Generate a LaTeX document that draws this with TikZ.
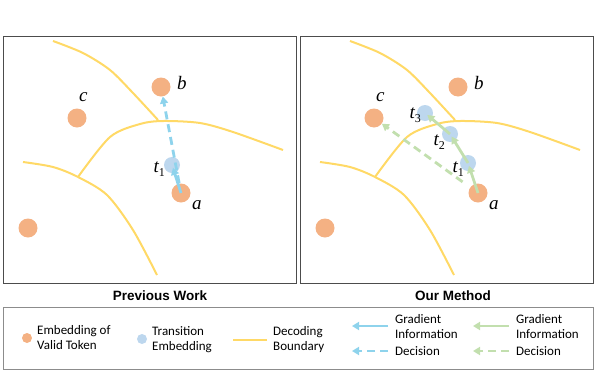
\documentclass[tikz,border=0pt]{standalone}
\usepackage{fontspec}
\setmainfont{Liberation Serif}
\newfontfamily\legendfont{Carlito}
\newfontfamily\titlefont{Liberation Sans}
\usetikzlibrary{arrows.meta}

\definecolor{tokenorange}{HTML}{F4B183}
\definecolor{transblue}{HTML}{BDD7EE}
\definecolor{boundyellow}{HTML}{FFD966}
\definecolor{gradblue}{HTML}{8ED3EC}
\definecolor{gradgreen}{HTML}{C2DFAE}

\tikzset{
  token/.style={circle,fill=tokenorange,minimum size=19pt,inner sep=0pt},
  trans/.style={circle,fill=transblue,minimum size=16pt,inner sep=0pt},
  boundary/.style={draw=boundyellow,line width=2pt},
  grad/.style={line width=2.8pt,-{Triangle[length=7pt,width=8pt]}},
  decision/.style={grad,dash pattern=on 8pt off 5pt},
  varlabel/.style={font=\fontsize{19}{19}\selectfont\itshape,inner sep=0pt},
  legendtext/.style={font=\legendfont\fontsize{13}{15}\selectfont,align=left,anchor=west,inner sep=0pt},
  paneltitle/.style={font=\titlefont\bfseries\fontsize{13.5}{14}\selectfont,inner sep=0pt},
  panel/.style={draw=black!70,line width=1pt}
}
\newcommand{\tsub}[1]{t\raisebox{-4pt}{\fontsize{12}{12}\selectfont\upshape #1}}

\begin{document}
\begin{tikzpicture}[x=1pt,y=-1pt]
  \useasboundingbox (0,0) rectangle (598,378);

  % two panels with the same boundaries and tokens
  \foreach \dx/\p in {0/L,297/R} {
    \begin{scope}[xshift=\dx pt]
      \draw[panel] (3,36) rectangle (296,283);
      \draw[boundary] plot[smooth] coordinates {(53,41) (83,53) (110,70) (133,93) (158,120)};
      \draw[boundary] plot[smooth] coordinates {(78,177) (110,137) (140,124) (163,121) (200,123) (233,132) (283,150)};
      \draw[boundary] plot[smooth] coordinates {(23,162) (53,167) (78,177) (107,195) (133,230) (157,275)};
      \node (a\p) [token] at (181,193) {};
      \node (b\p) [token] at (161,87) {};
      \node (c\p) [token] at (77,118) {};
      \node (d\p) [token] at (28,228) {};
      \node (la\p) [varlabel,anchor=base west] at (192,209) {a};
      \node (lb\p) [varlabel,anchor=base west] at (177,89) {b};
      \node (lc\p) [varlabel,anchor=base west] at (79,101) {c};
    \end{scope}
  }

  % previous work
  \node (t1L) [trans] at (172,165) {};
  \node (lt1L) [varlabel,anchor=base east] at (165,172) {\tsub{1}};
  \draw[grad,draw=gradblue,shorten >=3pt] (aL.center) -- (t1L.center);
  \draw[decision,draw=gradblue,shorten <=10pt] (aL.center) -- (bL);

  % our method
  \node (t1R) [trans] at (468,163) {};
  \node (t2R) [trans] at (450,134) {};
  \node (t3R) [trans] at (425,113) {};
  \node (lt1R) [varlabel,anchor=base east] at (464,172) {\tsub{1}};
  \node (lt2R) [varlabel,anchor=base east] at (445,145) {\tsub{2}};
  \node (lt3R) [varlabel,anchor=base east] at (421,118) {\tsub{3}};
  \draw[grad,draw=gradgreen,shorten >=3pt] (aR.center) -- (t1R.center);
  \draw[grad,draw=gradgreen,shorten >=3pt] (t1R.center) -- (t2R.center);
  \draw[grad,draw=gradgreen,shorten >=3pt] (t2R.center) -- (t3R.center);
  \draw[decision,draw=gradgreen,shorten <=19pt] (aR.center) -- (cR);

  \node (prevtitle) [paneltitle] at (160,296) {Previous Work};
  \node (ourtitle) [paneltitle] at (453,296) {Our Method};

  % legend
  \draw[draw=black!45,line width=0.8pt] (3,307) rectangle (593,369);
  \node (keytoken) [token,minimum size=10pt] at (27,338) {};
  \node (keytokentext) [legendtext] at (37,338) {Embedding of\\Valid Token};
  \node (keytrans) [trans,minimum size=10pt] at (142,339) {};
  \node (keytranstext) [legendtext] at (152,340) {Transition\\Embedding};
  \coordinate (keyboundA) at (233,340);
  \coordinate (keyboundB) at (267,340);
  \draw[boundary] (keyboundA) -- (keyboundB);
  \node (keyboundtext) [legendtext] at (273,340) {Decoding\\Boundary};
  \foreach \x/\col/\q in {352/gradblue/B,473/gradgreen/G} {
    \coordinate (gradS\q) at (\x+36,326);
    \coordinate (gradE\q) at (\x,326);
    \coordinate (decS\q) at (\x+36,351);
    \coordinate (decE\q) at (\x,351);
    \draw[grad,draw=\col] (gradS\q) -- (gradE\q);
    \draw[decision,draw=\col] (decS\q) -- (decE\q);
    \node (gradtext\q) [legendtext] at (\x+43,327) {Gradient\\Information};
    \node (dectext\q) [legendtext] at (\x+43,351) {Decision};
  }
\end{tikzpicture}
\end{document}
